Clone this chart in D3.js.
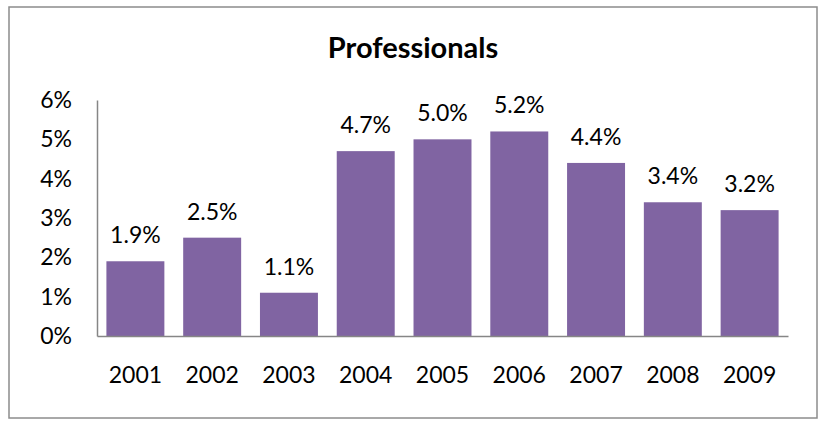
<!DOCTYPE html>
<html>
<head>
<meta charset="utf-8">
<script src="https://cdn.jsdelivr.net/npm/d3@7"></script>
<style>
  html, body { margin: 0; padding: 0; background: #fff; }
  svg { display: block; font-family: Lato, "Open Sans", sans-serif; }
</style>
</head>
<body>
<svg id="chart" width="820" height="422"></svg>
<script>
// Annual share values, Professionals
const years = ["2001", "2002", "2003", "2004", "2005", "2006", "2007", "2008", "2009"];
const values = [1.9, 2.5, 1.1, 4.7, 5.0, 5.2, 4.4, 3.4, 3.2];
const yTicks = [0, 1, 2, 3, 4, 5, 6];
const title = "Professionals";

const svg = d3.select("#chart");
const plot = { left: 97, right: 788, top: 100, bottom: 336 };
const labelSize = 23;

// Outer frame
svg.append("rect")
  .attr("x", 9).attr("y", 7)
  .attr("width", 808).attr("height", 411)
  .attr("fill", "#fff")
  .attr("stroke", "#8c8c8c")
  .attr("stroke-width", 1.5);

const x = d3.scaleBand()
  .domain(years)
  .range([plot.left, plot.right])
  .paddingInner(0.245)
  .paddingOuter(0.1225);

const y = d3.scaleLinear()
  .domain([0, 6])
  .range([plot.bottom, plot.top]);

// Title
svg.append("text")
  .attr("x", 413).attr("y", 58)
  .attr("text-anchor", "middle")
  .attr("font-size", 29)
  .attr("font-weight", "bold")
  .attr("fill", "#000")
  .text(title);

// Bars
svg.append("g").selectAll("rect")
  .data(values)
  .join("rect")
  .attr("x", (d, i) => x(years[i]))
  .attr("y", d => y(d))
  .attr("width", x.bandwidth())
  .attr("height", d => y(0) - y(d))
  .attr("fill", "#8064A2");

// Value labels
svg.append("g").selectAll("text")
  .data(values)
  .join("text")
  .attr("x", (d, i) => x(years[i]) + x.bandwidth() / 2)
  .attr("y", d => y(d) - 18)
  .attr("text-anchor", "middle")
  .attr("font-size", labelSize)
  .attr("fill", "#000")
  .text(d => d.toFixed(1) + "%");

// Y axis
const yAxis = d3.axisLeft(y)
  .tickValues(yTicks)
  .tickFormat(d => d + "%")
  .tickSize(0)
  .tickPadding(25);
const gy = svg.append("g")
  .attr("transform", `translate(${plot.left},0)`)
  .call(yAxis);
gy.select(".domain").attr("stroke", "#868686").attr("stroke-width", 1.5);
gy.selectAll("text")
  .attr("font-size", labelSize)
  .attr("font-family", "Lato, 'Open Sans', sans-serif")
  .attr("fill", "#000");

// X axis
const xAxis = d3.axisBottom(x).tickSize(0).tickPadding(31);
const gx = svg.append("g")
  .attr("transform", `translate(0,${plot.bottom})`)
  .call(xAxis);
gx.select(".domain").attr("stroke", "#868686").attr("stroke-width", 1.5);
gx.selectAll("text")
  .attr("font-size", labelSize)
  .attr("font-family", "Lato, 'Open Sans', sans-serif")
  .attr("fill", "#000");
</script>
</body>
</html>
